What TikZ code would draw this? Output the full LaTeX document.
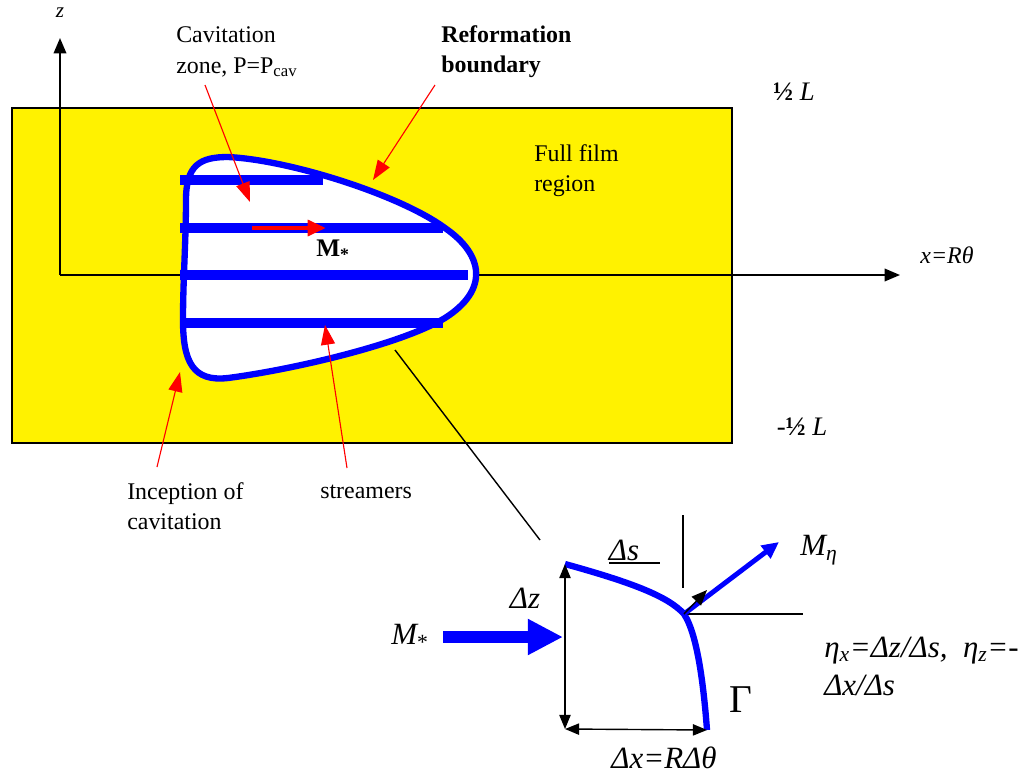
\documentclass[tikz,border=0pt]{standalone}
\usepackage{fontspec}
\setmainfont{Liberation Serif}
\usetikzlibrary{arrows.meta}

\begin{document}
\begin{tikzpicture}[x=0.025cm,y=-0.025cm,
        lbl/.style={anchor=west,align=left,inner sep=0pt,font=\fontsize{17}{21.5}\selectfont},
        big/.style={inner sep=0pt,font=\fontsize{22}{27}\selectfont\itshape},
        leader/.style={red,line width=0.8pt,-{Triangle[length=14pt,width=10pt]}},
        axis/.style={line width=1.2pt,-{Triangle[length=11pt,width=9pt]}},
        streamer/.style={blue,line width=7pt},
        dim/.style={line width=1pt,{Triangle[length=10pt,width=8pt]}-{Triangle[length=10pt,width=8pt]}}]

        \useasboundingbox (0,0) rectangle (1021,778);

        % Full film region
        \draw[fill=yellow,line width=1pt] (12,108) rectangle (732,443);

        % Axes
        \coordinate (o) at (60,275);
        \coordinate (ztip) at (60,38);
        \coordinate (xtip) at (900,275);
        \draw[axis] (o) -- (ztip);
        \draw[axis] (o) -- (xtip);
        \node[font=\fontsize{15}{16}\selectfont\itshape] (zlbl) at (60,13) {z};
        \node[font=\fontsize{17}{18}\selectfont\itshape] (xlbl) at (947,255) {x=Rθ};
        \node[font=\fontsize{19}{20}\selectfont] (Ltop) at (794,92) {\textbf{½} \textit{L}};
        \node[font=\fontsize{19}{20}\selectfont] (Lbot) at (802,427) {-\textbf{½} \textit{L}};

        % Cavitation zone
        \draw[blue,line width=4.5pt,fill=white] (186,200)
            .. controls (186,165) and (200,157) .. (228,157)
            .. controls (290,160) and (400,195) .. (445,228)
            .. controls (484,255) and (489,290) .. (445,318)
            .. controls (400,345) and (290,370) .. (228,378)
            .. controls (193,382) and (183,362) .. (183,320)
            .. controls (183,280) and (186,240) .. (186,200) -- cycle;

        % Streamers
        \foreach \y/\xe in {180/323,228/443,275/468,323/443} {
                \draw[streamer] (180,\y) -- (\xe,\y);
            }

        \coordinate (ma) at (252,228);
        \coordinate (mb) at (326,228);
        \draw[red,line width=3.5pt,-{Triangle[length=13pt,width=11pt]}] (ma) -- (mb);
        \node[font=\fontsize{18}{18}\selectfont\bfseries] (mstar) at (333,250) {M\textsubscript{*}};

        % Labels and leaders
        \node[lbl] (cavlbl) at (176,52) {Cavitation\\zone, P=P\textsubscript{cav}};
        \node[lbl,font=\fontsize{17}{21.5}\selectfont\bfseries] (reflbl) at (441,52) {Reformation\\boundary};
        \node[lbl] (fflbl) at (534,171) {Full film\\region};
        \node[lbl] (inclbl) at (127,506) {Inception of\\cavitation};
        \node[lbl] (strlbl) at (320,492) {streamers};

        \coordinate (cavs) at (205,85);
        \coordinate (cavt) at (250,202);
        \coordinate (refs) at (435,85);
        \coordinate (reft) at (373,180);
        \coordinate (incs) at (157,467);
        \coordinate (inct) at (180,372);
        \coordinate (strs) at (347,468);
        \coordinate (strt) at (325,325);
        \draw[leader] (cavs) -- (cavt);
        \draw[leader] (refs) -- (reft);
        \draw[leader] (incs) -- (inct);
        \draw[leader] (strs) -- (strt);

        % Zoom onto the boundary
        \coordinate (za) at (395,350);
        \coordinate (zb) at (540,540);
        \draw[line width=1pt] (za) -- (zb);

        % Boundary element
        \coordinate (g1) at (565,564);
        \coordinate (g2) at (707,730);
        \coordinate (k) at (684,614);
        \draw[blue,line width=4.5pt] (g1)
            .. controls (630,582) and (668,596) .. (k)
            .. controls (698,635) and (704,690) .. (g2);
        \coordinate (dzb) at (565,729);
        \draw[dim] (g1) -- (dzb);
        \draw[dim] (dzb) -- (g2);
        \node[big] (dzlbl) at (525,598) {Δz};
        \node[big] (dslbl) at (624,550) {Δs};
        \draw[line width=1pt] (609,563) -- (660,563);
        \draw[line width=1pt] (683,515) -- (683,588);
        \coordinate (hr) at (803,614);
        \draw[line width=1pt] (k) -- (hr);
        \coordinate (mtip) at (779,542);
        \draw[blue,line width=3.5pt,-{Triangle[length=12pt,width=11pt]}] (k) -- (mtip);
        \coordinate (ntip) at (707,590);
        \draw[line width=1pt,-{Triangle[length=11pt,width=9pt]}] (k) -- (ntip);
        \node[big,anchor=west] (metalbl) at (800,550) {M\textsubscript{η}};
        \coordinate (msa) at (443,637);
        \coordinate (msb) at (563,637);
        \draw[blue,line width=9pt,-{Triangle[length=25pt,width=24pt]}] (msa) -- (msb);
        \node[big] (mslbl) at (410,637) {M\textsubscript{\upshape*}};
        \node[inner sep=0pt,font=\fontsize{28}{30}\selectfont] (gam) at (741,700) {Γ};
        \node[big] (dxlbl) at (664,758) {Δx=RΔθ};
        \node[big,anchor=west,align=left] (etalbl) at (824,666)
            {η\textsubscript{x}=Δz/Δs,\ \ η\textsubscript{z}=-\\Δx/Δs};
    \end{tikzpicture}
\end{document}
